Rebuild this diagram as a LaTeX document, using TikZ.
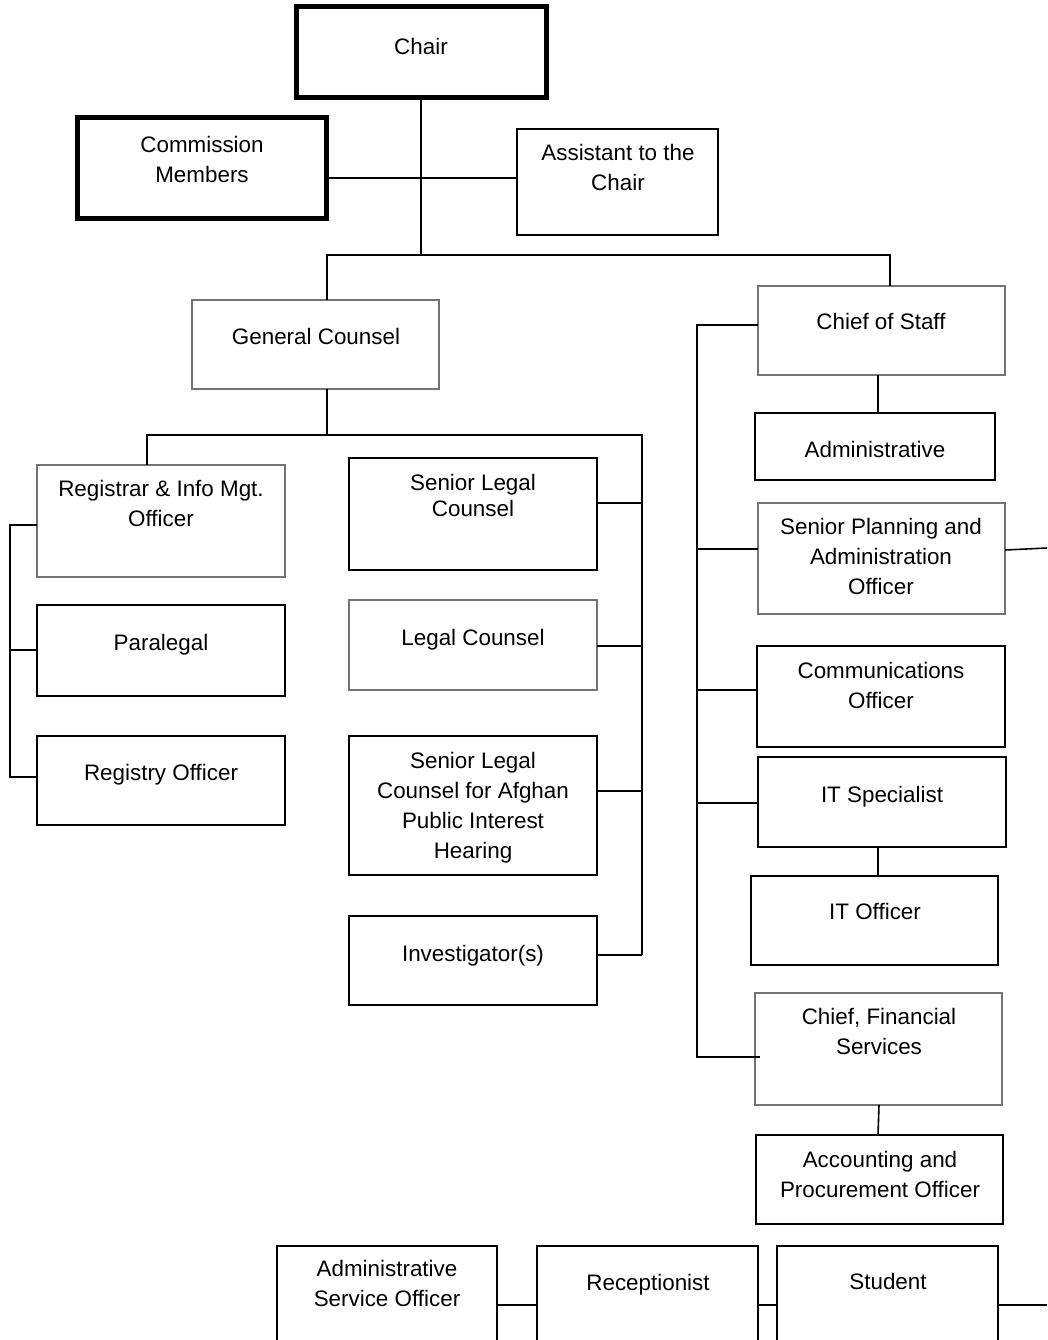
\documentclass[tikz,border=0pt]{standalone}
\usepackage{fontspec}
\setmainfont{Liberation Sans}
\begin{document}
\begin{tikzpicture}[x=1pt,y=-1pt,
  bx/.style={draw=black,line width=1.6pt},
  gbx/.style={draw=black!55,line width=1.1pt},
  hbx/.style={draw=black,line width=5pt},
  txt/.style={align=center,inner sep=0pt,font=\fontsize{22.4}{30}\selectfont},
  ln/.style={draw=black,line width=1.6pt}]
\useasboundingbox (0,0) rectangle (1047,1340);
\clip (0,0) rectangle (1047,1340);
% boxes
\draw[hbx] (296,7) rectangle (546,98); \coordinate (chairB) at (421,98);
\node[txt] (chair) at (421,46) {Chair};
\draw[hbx] (77,118) rectangle (326,219); \coordinate (cmR) at (326,178);
\node[txt] (cm) at (202,159) {Commission\\Members};
\draw[bx] (517,129) rectangle (718,235); \coordinate (asL) at (517,178);
\node[txt] (as) at (618,167) {Assistant to the\\Chair};
\draw[gbx] (192,300) rectangle (439,389);
\node[txt] (gc) at (316,336) {General Counsel};
\draw[gbx] (758,286) rectangle (1005,375);
\node[txt] (cos) at (881,321) {Chief of Staff};
% legal side
\draw[gbx] (37,465) rectangle (285,577);
\node[txt] (reg) at (161,503) {Registrar \& Info Mgt.\\Officer};
\draw[bx] (37,605) rectangle (285,696);
\node[txt] (para) at (161,645) {Paralegal};
\draw[bx] (37,736) rectangle (285,825);
\node[txt] (rego) at (161,775) {Registry Officer};
\draw[bx] (349,458) rectangle (597,570);
\node[txt,font=\fontsize{22.4}{26}\selectfont] (slc) at (473,495) {Senior Legal\\Counsel};
\draw[gbx] (349,600) rectangle (597,690);
\node[txt] (lc) at (473,640) {Legal Counsel};
\draw[bx] (349,736) rectangle (597,875);
\node[txt] (slca) at (473,808) {Senior Legal\\Counsel for Afghan\\Public Interest\\Hearing};
\draw[bx] (349,916) rectangle (597,1005);
\node[txt] (inv) at (473,956) {Investigator(s)};
% staff side
\draw[bx] (755,413) rectangle (995,480);
\node[txt] (adm) at (875,449) {Administrative};
\draw[gbx] (758,503) rectangle (1005,614);
\node[txt] (spa) at (881,556) {Senior Planning and\\Administration\\Officer};
\draw[bx] (757,646) rectangle (1005,747);
\node[txt] (com) at (881,685) {Communications\\Officer};
\draw[bx] (758,757) rectangle (1006,847);
\node[txt] (its) at (882,797) {IT Specialist};
\draw[bx] (751,876) rectangle (998,965);
\node[txt] (ito) at (875,911) {IT Officer};
\draw[gbx] (755,993) rectangle (1002,1105);
\node[txt] (cfs) at (879,1031) {Chief, Financial\\Services};
\draw[bx] (756,1135) rectangle (1003,1224);
\node[txt] (acc) at (880,1174) {Accounting and\\Procurement Officer};
% bottom row
\draw[bx] (277,1360) -- (277,1246) -- (497,1246) -- (497,1360);
\node[txt] (aso) at (387,1283) {Administrative\\Service Officer};
\draw[bx] (537,1360) -- (537,1246) -- (758,1246) -- (758,1360);
\node[txt] (rec) at (648,1285) {Receptionist};
\draw[bx] (777,1360) -- (777,1246) -- (998,1246) -- (998,1360);
\node[txt] (stu) at (888,1281) {Student};
% connectors top
\draw[ln] (chairB) -- (421,255);
\draw[ln] (cmR) -- (asL);
\draw[ln] (327,300) -- (327,255) -- (890,255) -- (890,286);
% GC to legal
\draw[ln] (327,389) -- (327,435);
\draw[ln] (147,465) -- (147,435) -- (642,435) -- (642,955);
\draw[ln] (597,503) -- (642,503);
\draw[ln] (597,646) -- (642,646);
\draw[ln] (597,791) -- (642,791);
\draw[ln] (597,955) -- (642,955);
\draw[ln] (37,525) -- (10,525) -- (10,777) -- (37,777);
\draw[ln] (10,650) -- (37,650);
% CoS
\draw[ln] (758,325) -- (697,325) -- (697,1057) -- (760,1057);
\draw[ln] (697,549) -- (758,549);
\draw[ln] (697,690) -- (757,690);
\draw[ln] (697,803) -- (758,803);
\draw[ln] (878,375) -- (878,413);
\draw[ln] (878,847) -- (878,876);
\draw[ln] (879,1105) -- (878,1135);
\draw[ln] (1005,550) -- (1047,548);
% bottom connectors
\draw[ln] (497,1305) -- (537,1305);
\draw[ln] (758,1305) -- (777,1305);
\draw[ln] (998,1305) -- (1047,1305);
\end{tikzpicture}
\end{document}
